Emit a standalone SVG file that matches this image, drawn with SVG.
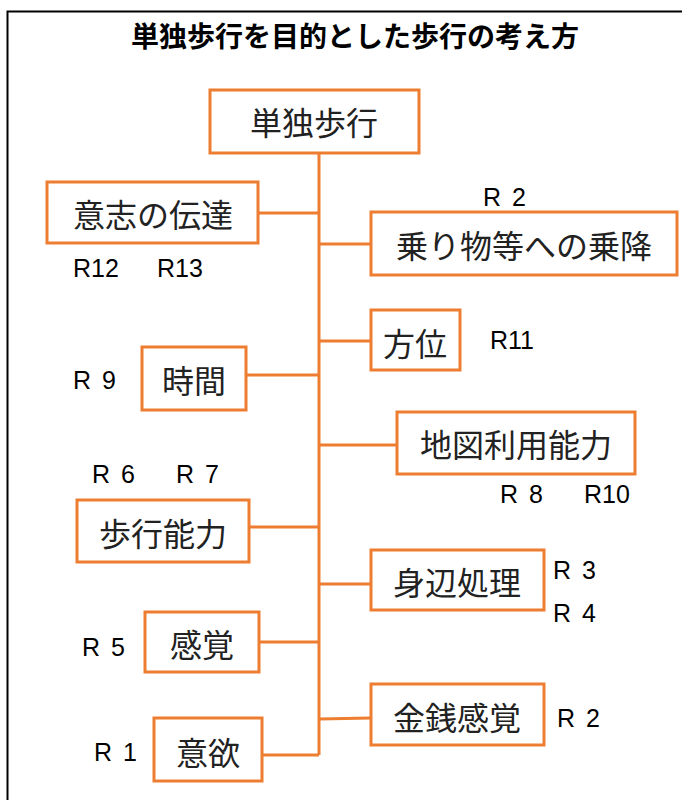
<svg xmlns="http://www.w3.org/2000/svg" width="682" height="800" viewBox="0 0 682 800">
<style>
.box{fill:#fff;stroke:#ED7D31;stroke-width:3}
.t{font-family:"Noto Sans CJK JP","Noto Sans",sans-serif;font-size:32px;fill:#222;text-anchor:middle;dominant-baseline:central}
.r{font-family:"Liberation Sans",Arial,sans-serif;font-size:25px;fill:#000;word-spacing:4px}
.c{stroke:#ED7D31;stroke-width:3;fill:none}
</style>
<rect width="682" height="800" fill="#fff"/>
<rect x="7.5" y="11.5" width="690" height="800" fill="none" stroke="#000" stroke-width="2"/>
<text x="355" y="47" text-anchor="middle" font-family="Noto Sans CJK JP,sans-serif" font-weight="bold" font-size="28" fill="#000">単独歩行を目的とした歩行の考え方</text>
<g id="connectors">
<path class="c" d="M319 153V755"/>
<path class="c" d="M258 213H319"/>
<path class="c" d="M319 244H371"/>
<path class="c" d="M319 341H371"/>
<path class="c" d="M246 375H319"/>
<path class="c" d="M319 445H397"/>
<path class="c" d="M249 527H319"/>
<path class="c" d="M319 584H371"/>
<path class="c" d="M259 642H319"/>
<path class="c" d="M319 719L371 718"/>
<path class="c" d="M262 755H319"/>
</g>
<g id="n0"><rect class="box" x="210" y="90" width="209" height="63"/><text class="t" x="314" y="121">単独歩行</text></g>
<g id="n1"><rect class="box" x="47" y="182" width="211" height="61"/><text class="t" x="153" y="213">意志の伝達</text></g>
<g id="n2"><rect class="box" x="371" y="212" width="306" height="63"/><text class="t" x="524" y="244">乗り物等への乗降</text></g>
<g id="n3"><rect class="box" x="371" y="310" width="89" height="60"/><text class="t" x="415" y="342">方位</text></g>
<g id="n4"><rect class="box" x="142" y="347" width="104" height="63"/><text class="t" x="194" y="379">時間</text></g>
<g id="n5"><rect class="box" x="397" y="412" width="238" height="62"/><text class="t" x="516" y="443">地図利用能力</text></g>
<g id="n6"><rect class="box" x="77" y="500" width="172" height="62"/><text class="t" x="163" y="532">歩行能力</text></g>
<g id="n7"><rect class="box" x="371" y="550" width="173" height="60"/><text class="t" x="457" y="581">身辺処理</text></g>
<g id="n8"><rect class="box" x="145" y="612" width="114" height="60"/><text class="t" x="202" y="643">感覚</text></g>
<g id="n9"><rect class="box" x="371" y="684" width="173" height="61"/><text class="t" x="457" y="716">金銭感覚</text></g>
<g id="n10"><rect class="box" x="154" y="718" width="108" height="63"/><text class="t" x="208" y="751">意欲</text></g>
<g id="labels">
<text class="r" x="483" y="206">R 2</text>
<text class="r" x="73" y="277">R12</text>
<text class="r" x="157" y="277">R13</text>
<text class="r" x="490" y="349">R11</text>
<text class="r" x="73" y="389">R 9</text>
<text class="r" x="92" y="483">R 6</text>
<text class="r" x="176" y="483">R 7</text>
<text class="r" x="500" y="503">R 8</text>
<text class="r" x="584" y="503">R10</text>
<text class="r" x="553" y="579">R 3</text>
<text class="r" x="553" y="622">R 4</text>
<text class="r" x="82" y="656">R 5</text>
<text class="r" x="557" y="727">R 2</text>
<text class="r" x="94" y="761">R 1</text>
</g>
</svg>
